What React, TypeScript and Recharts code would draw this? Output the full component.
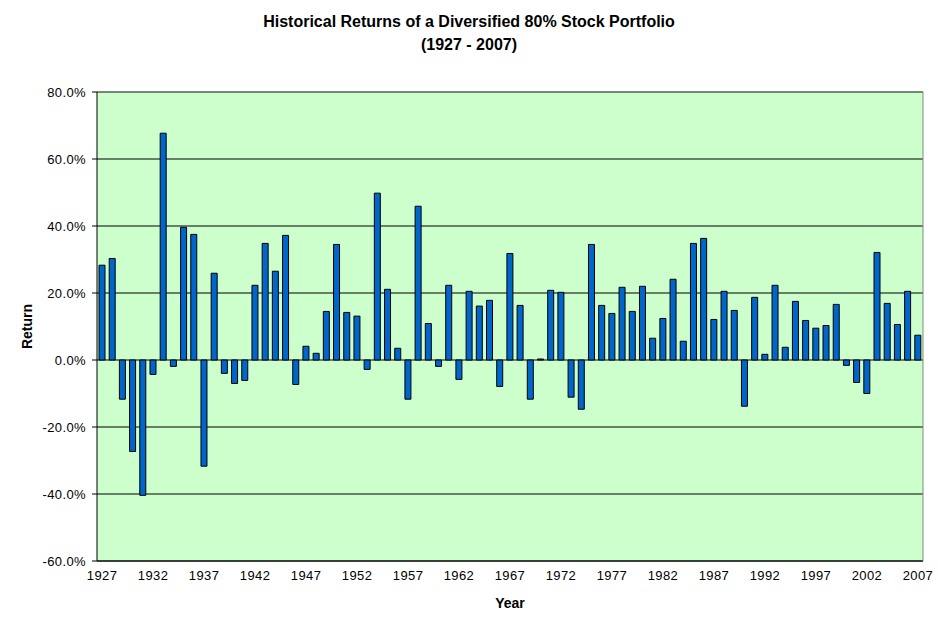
import { Bar, BarChart, CartesianGrid, ReferenceLine, XAxis, YAxis } from "recharts";

const years = [
  "1927", "1928", "1929", "1930", "1931", "1932", "1933", "1934", "1935", "1936",
  "1937", "1938", "1939", "1940", "1941", "1942", "1943", "1944", "1945", "1946",
  "1947", "1948", "1949", "1950", "1951", "1952", "1953", "1954", "1955", "1956",
  "1957", "1958", "1959", "1960", "1961", "1962", "1963", "1964", "1965", "1966",
  "1967", "1968", "1969", "1970", "1971", "1972", "1973", "1974", "1975", "1976",
  "1977", "1978", "1979", "1980", "1981", "1982", "1983", "1984", "1985", "1986",
  "1987", "1988", "1989", "1990", "1991", "1992", "1993", "1994", "1995", "1996",
  "1997", "1998", "1999", "2000", "2001", "2002", "2003", "2004", "2005", "2006",
  "2007"
];

// annual return, percent
const returns = [
  28.3, 30.3, -11.7, -27.3, -40.4, -4.3, 67.7, -1.9, 39.6, 37.5,
  -31.7, 25.9, -4.0, -7.0, -6.1, 22.3, 34.8, 26.5, 37.2, -7.3,
  4.1, 2.0, 14.5, 34.5, 14.2, 13.1, -2.8, 49.8, 21.1, 3.5,
  -11.7, 45.9, 10.9, -1.9, 22.3, -5.8, 20.5, 16.1, 17.8, -7.9,
  31.8, 16.3, -11.7, 0.3, 20.8, 20.2, -11.1, -14.7, 34.5, 16.3,
  13.9, 21.7, 14.5, 22.0, 6.5, 12.4, 24.1, 5.6, 34.8, 36.3,
  12.1, 20.5, 14.8, -13.8, 18.7, 1.7, 22.3, 3.8, 17.5, 11.8,
  9.5, 10.3, 16.6, -1.6, -6.7, -10.0, 32.1, 16.9, 10.6, 20.5,
  7.4
];

const yTicks = [-60, -40, -20, 0, 20, 40, 60, 80];

const data = years.map((year, i) => ({ year, value: returns[i] }));

const FONT = "'Liberation Sans', Arial, sans-serif";
const BORDER = "#7A927A";

export default function App() {
  return (
    <div style={{ position: "absolute", left: 0, top: 0, width: 938, height: 628, background: "#fff", fontFamily: FONT }}>
      <div
        style={{
          position: "absolute",
          left: 0,
          top: 10,
          width: 938,
          textAlign: "center",
          fontSize: 16,
          fontWeight: "bold",
          lineHeight: "23px",
          color: "#000"
        }}
      >
        <div>Historical Returns of a Diversified 80% Stock Portfolio</div>
        <div>(1927 - 2007)</div>
      </div>
      <BarChart
        width={938}
        height={628}
        data={data}
        margin={{ top: 92, right: 0, bottom: 0, left: 0 }}
        barSize={6}
        style={{ fontFamily: FONT }}
      >
        <CartesianGrid vertical={false} stroke="#000" fill="#CCFFCC" fillOpacity={1} />
        <XAxis
          dataKey="year"
          interval={4}
          height={67}
          tickLine={false}
          axisLine={{ stroke: "#000" }}
          tick={{ fill: "#000", fontSize: 13, letterSpacing: 0.4 }}
          tickMargin={4}
          label={{ value: "Year", position: "insideBottom", offset: 20, fill: "#000", fontSize: 14, fontWeight: "bold" }}
        />
        <YAxis
          width={97}
          domain={[-60, 80]}
          ticks={yTicks}
          allowDataOverflow
          tickFormatter={(v: number) => `${v.toFixed(1)}%`}
          tickSize={5}
          tickMargin={6}
          tickLine={{ stroke: "#000" }}
          axisLine={{ stroke: "#000" }}
          tick={{ fill: "#000", fontSize: 13, letterSpacing: 0.4 }}
          label={{
            value: "Return",
            angle: -90,
            position: "insideLeft",
            offset: 27,
            fill: "#000",
            fontSize: 14,
            fontWeight: "bold",
            style: { textAnchor: "middle" }
          }}
        />
        <YAxis
          yAxisId="right"
          orientation="right"
          width={15}
          domain={[-60, 80]}
          tick={false}
          tickLine={false}
          axisLine={{ stroke: BORDER }}
        />
        <ReferenceLine y={80} stroke={BORDER} />
        <Bar dataKey="value" fill="#0066CC" stroke="#000" strokeWidth={1} isAnimationActive={false} />
      </BarChart>
    </div>
  );
}
